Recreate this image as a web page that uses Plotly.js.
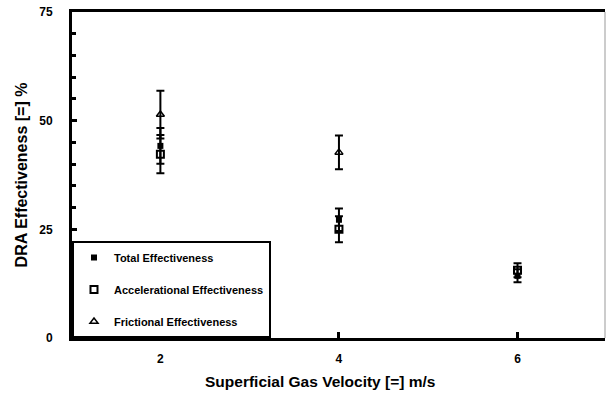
<!DOCTYPE html>
<html><head><meta charset="utf-8">
<script src="https://cdn.plot.ly/plotly-3.0.1.min.js"></script>
<style>html,body{margin:0;padding:0;background:#fff}#chart{width:607px;height:394px}</style>
</head><body><div id="chart"></div>
<script>
// Data
const velocity = [2, 4, 6];
const totalEff = [44.2, 27.2, 14.3];
const totalErr = [4.1, 2.6, 1.5];
const accelEff = [42.3, 25.0, 15.6];
const accelErr = [4.4, 3.0, 1.6];
const fricVel = [2, 4];
const fricEff = [51.4, 42.7];
const fricErr = [5.5, 3.9];
const yTicks = [0, 25, 50, 75];
const xTicks = [2, 4, 6];

const F = "Liberation Sans, Arial, sans-serif";
function eb(arr){return {type:'data', array:arr, visible:true, color:'#000', thickness:2, width:4};}

const traces = [
  {x: velocity, y: totalEff, name: 'Total Effectiveness', mode: 'markers', type: 'scatter', legendgroup:'a',
   marker: {symbol: 'square', size: 6, color: '#000'}, error_y: eb(totalErr)},
  {x: velocity, y: accelEff, name: 'Accelerational Effectiveness', mode: 'markers', type: 'scatter', legendgroup:'b',
   marker: {symbol: 'square-open', size: 7, color: '#000', line:{width:2}}, error_y: eb(accelErr)},
  {x: fricVel, y: fricEff, name: 'Frictional Effectiveness', mode: 'markers', type: 'scatter', legendgroup:'c',
   marker: {symbol: 'triangle-up-open', size: 7, color: '#000', line:{width:1.5}}, error_y: eb(fricErr)}
];

const layout = {
  width: 607, height: 394,
  margin: {l: 72, r: 2, t: 12, b: 56},
  paper_bgcolor: '#fff', plot_bgcolor: '#fff',
  showlegend: true,
  legend: {x: 0, y: 0, xanchor: 'left', yanchor: 'bottom', bgcolor: '#fff', bordercolor: '#000', borderwidth: 2,
           font: {family: F, size: 11, color: '#000', weight: 'bold'}, traceorder: 'grouped', tracegroupgap: 13,
           itemwidth: 30},
  xaxis: {range: [1.01, 6.98], tickvals: xTicks, ticktext: xTicks.map(String), showgrid: false, zeroline: false,
          showline: true, linecolor: '#000', linewidth: 3, mirror: true,
          ticks: 'inside', ticklen: 6, tickwidth: 3, tickcolor: '#000', ticklabelstandoff: 8,
          tickfont: {family: F, size: 12, color: '#000', weight: 'bold'}},
  yaxis: {range: [0, 75], tickvals: yTicks, ticktext: yTicks.map(String), showgrid: false, zeroline: false,
          showline: true, linecolor: '#000', linewidth: 3, mirror: false,
          ticks: 'inside', ticklen: 5, tickwidth: 3, tickcolor: '#000', ticklabelstandoff: 14,
          minor: {dtick: 5, ticks: 'inside', ticklen: 4, tickwidth: 3, tickcolor: '#000', showgrid: false},
          tickfont: {family: F, size: 12, color: '#000', weight: 'bold'},
          title: {text: 'DRA Effectiveness [=] %', font: {family: F, size: 16, color: '#000', weight: 'bold'}, standoff: 8}},
  annotations: [{text: 'Superficial Gas Velocity [=] m/s', xref: 'paper', yref: 'paper', x: 0.465, y: 0,
                 yshift: -43, xanchor: 'center', yanchor: 'middle', showarrow: false,
                 font: {family: F, size: 15.5, color: '#000', weight: 'bold'}}],
  shapes: [{type: 'line', xref: 'paper', yref: 'paper', x0: 1, x1: 1, y0: 0, y1: 1, line: {color: '#999', width: 1}}]
};

Plotly.newPlot('chart', traces, layout, {displayModeBar: false, staticPlot: true});
</script></body></html>
